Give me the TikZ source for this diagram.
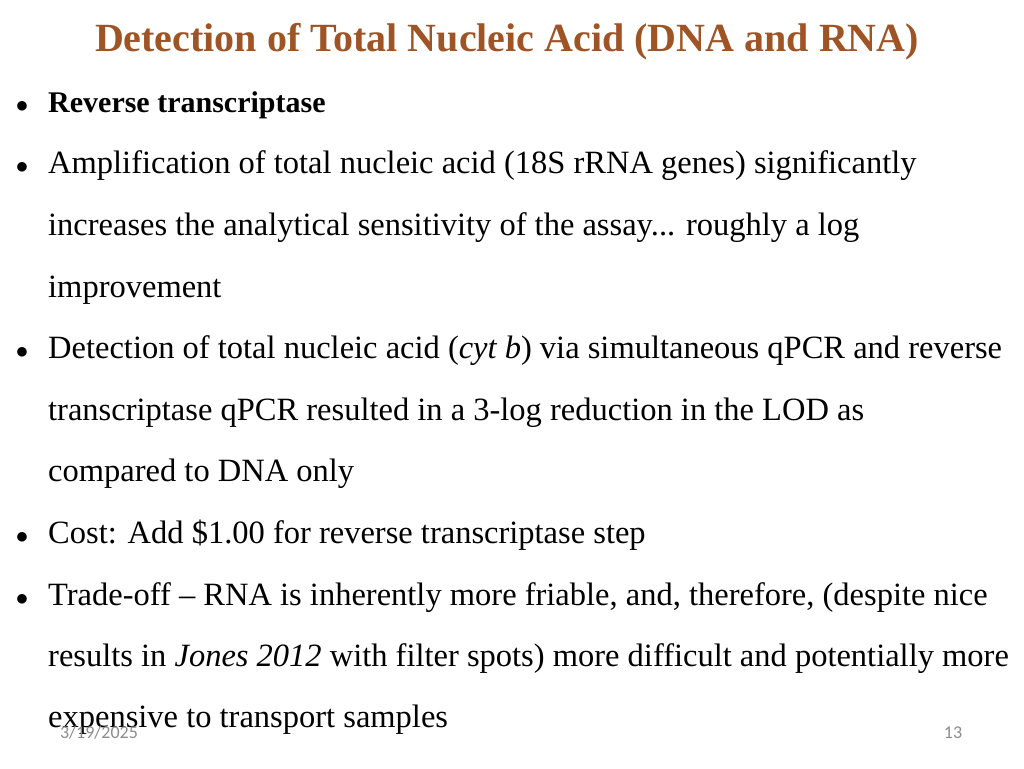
\documentclass[tikz,border=0pt]{standalone}
\usepackage{fontspec}
\setmainfont{Liberation Serif}
\newfontfamily\footfont{Carlito}
\definecolor{titlebrown}{HTML}{9E5424}
\definecolor{footgray}{HTML}{8C8C8C}
\tikzset{
  txt/.style={anchor=base west,inner sep=0pt,font=\fontsize{32.5}{36}\selectfont},
  dot/.style={anchor=base,inner sep=0pt,font=\fontsize{26}{30}\selectfont},
  foot/.style={inner sep=0pt,text=footgray,font=\footfont\fontsize{18}{20}\selectfont}
}
\begin{document}
\begin{tikzpicture}[x=1pt,y=-1pt]
  \useasboundingbox (0,0) rectangle (1024,768);
  \node[inner sep=0pt,text=titlebrown,font=\bfseries\fontsize{40}{44}\selectfont] (title) at (507,42) {Detection of Total Nucleic Acid (DNA and RNA)};
  % bullets
  \foreach \y in {112,173,358,543,605}
    \node[dot] at (22,\y) {$\bullet$};
  \node[txt,font=\bfseries\fontsize{30}{34}\selectfont] (l1) at (48,112) {Reverse transcriptase};
  \node[txt] (l2) at (48,173) {Amplification of total nucleic acid (18S rRNA genes) significantly};
  \node[txt] (l3) at (48,235) {increases the analytical sensitivity of the assay... roughly a log};
  \node[txt] (l4) at (48,297) {improvement};
  \node[txt] (l5) at (48,358) {Detection of total nucleic acid (\textit{cyt b}) via simultaneous qPCR and reverse};
  \node[txt] (l6) at (48,420) {transcriptase qPCR resulted in a 3-log reduction in the LOD as};
  \node[txt] (l7) at (48,481) {compared to DNA only};
  \node[txt] (l8) at (48,543) {Cost: Add \$1.00 for reverse transcriptase step};
  \node[txt] (l9) at (48,605) {Trade-off -- RNA is inherently more friable, and, therefore, (despite nice};
  \node[txt] (l10) at (48,666) {results in \textit{Jones 2012} with filter spots) more difficult and potentially more};
  \node[txt] (l11) at (48,727) {expensive to transport samples};
  % footer
  \node[foot] (date) at (99,733) {3/19/2025};
  \node[foot] (page) at (953,733) {13};
\end{tikzpicture}
\end{document}
